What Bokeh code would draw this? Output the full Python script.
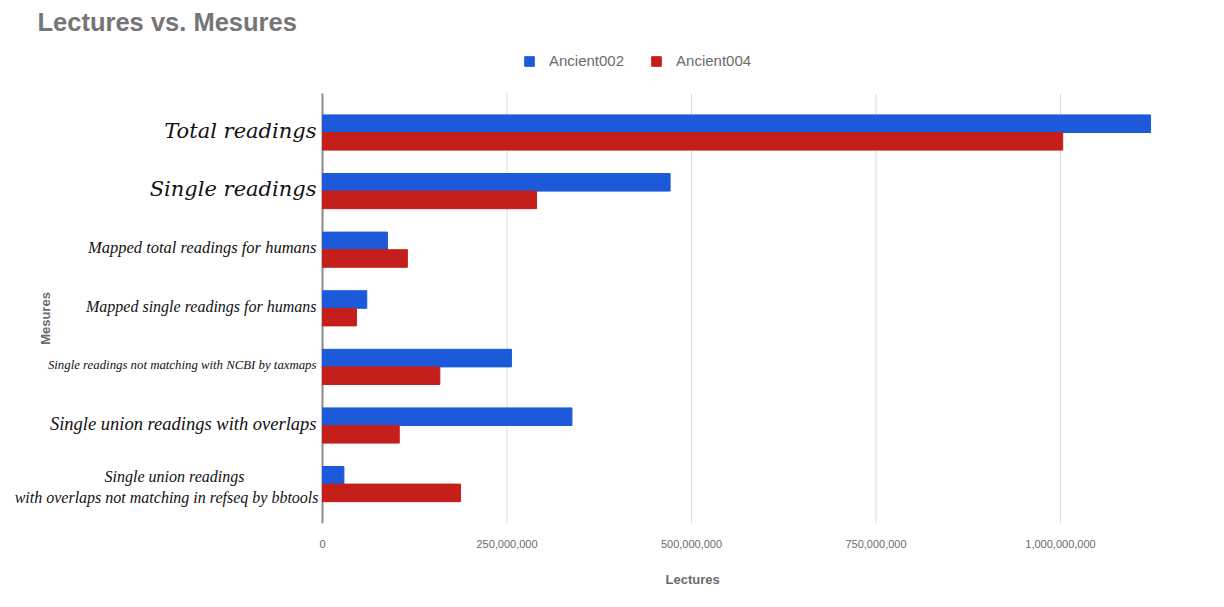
from bokeh.plotting import figure
from bokeh.models import Label, Legend, LegendItem, Range1d, FixedTicker, NumeralTickFormatter, Title
from bokeh.embed import file_html
from bokeh.resources import INLINE
import numpy as np

categories = [
    "Total readings",
    "Single readings",
    "Mapped total readings for humans",
    "Mapped single readings for humans",
    "Single readings not matching with NCBI by taxmaps",
    "Single union readings with overlaps",
    "Single union readings\nwith overlaps not matching in refseq by bbtools",
]
ancient002 = [1122e6, 471e6, 88e6, 60e6, 256e6, 338e6, 29e6]
ancient004 = [1003e6, 290e6, 115e6, 46e6, 159e6, 104e6, 187e6]
x_ticks = [0, 250e6, 500e6, 750e6, 1000e6]

BLUE = "#1c5ad9"
RED = "#c51f1b"
GRAY = "#6b6b6b"

W, H = 1224, 607
FB = 523            # frame bottom (px from top)
X0 = 322            # pixel of value 0
PX_PER_UNIT = 738 / 1e9
CAT_PX = 58.6
FIRST_CENTER = 132

x_start = -X0 / PX_PER_UNIT
x_end = (W - X0) / PX_PER_UNIT
y_top = -FIRST_CENTER / CAT_PX
y_bottom = (FB - FIRST_CENTER) / CAT_PX
plot_top = -(FIRST_CENTER - 93) / CAT_PX
plot_bottom = y_bottom

p = figure(width=W, height=H, output_backend="svg", toolbar_location=None,
           x_range=Range1d(x_start, x_end), y_range=Range1d(y_bottom, y_top),
           min_border_left=0, min_border_right=0, min_border_top=0, min_border_bottom=H - FB)
p.outline_line_color = None
p.background_fill_color = "white"
p.border_fill_color = "white"
p.grid.grid_line_color = None
p.yaxis.visible = False

# grid lines and baseline
p.segment(x0=x_ticks[1:], x1=x_ticks[1:], y0=plot_top, y1=plot_bottom,
          line_color="#dcdcdc", line_width=1)
p.segment(x0=[0], x1=[0], y0=plot_top, y1=plot_bottom, line_color="#8a8a8a", line_width=2)

idx = np.arange(len(categories))
bw = 0.30
r1 = p.hbar(y=idx - bw / 2, right=ancient002, left=0, height=bw, color=BLUE)
r2 = p.hbar(y=idx + bw / 2, right=ancient004, left=0, height=bw, color=RED)

xa = p.xaxis[0]
xa.ticker = FixedTicker(ticks=x_ticks)
xa.formatter = NumeralTickFormatter(format="0,0")
xa.axis_line_color = None
xa.major_tick_line_color = None
xa.minor_tick_line_color = None
xa.major_label_standoff = 10
xa.major_label_text_font = "Liberation Sans"
xa.major_label_text_font_size = "11px"
xa.major_label_text_color = GRAY

# x axis title, placed under the axis and shifted to the middle of the value span
xt = Title(text="Lectures", align="left", offset=665, text_font="Liberation Sans",
           text_font_style="bold", text_font_size="13px", text_color=GRAY, standoff=39)
p.add_layout(xt, "below")

# category labels
fonts = [
    ("DejaVu Serif", "21px"),
    ("DejaVu Serif", "21px"),
    ("Liberation Serif", "16.5px"),
    ("Liberation Serif", "16px"),
    ("Liberation Serif", "12.8px"),
    ("Liberation Serif", "18.5px"),
    ("Liberation Serif", "16px"),
]
for i, (cat, (fnt, fs)) in enumerate(zip(categories, fonts)):
    lines = cat.split("\n")
    common = dict(text_baseline="middle", text_font=fnt, text_font_size=fs,
                  text_font_style="italic", text_color="#111111")
    if len(lines) == 1:
        p.add_layout(Label(x=0, y=i - 0.03, x_offset=-6, text=cat, text_align="right", **common))
    else:
        p.add_layout(Label(x=0, y=i - 0.13, x_offset=-148, text=lines[0], text_align="center", **common))
        p.add_layout(Label(x=0, y=i + 0.23, x_offset=-4, text=lines[1], text_align="right", **common))

# title & y axis title (screen units are relative to the frame's bottom-left)
p.add_layout(Label(x=37, y=FB - 21, x_units="screen", y_units="screen",
                   text="Lectures vs. Mesures", text_font="Liberation Sans", text_font_style="bold",
                   text_font_size="25.5px", text_color="#757575", text_baseline="middle"))
p.add_layout(Label(x=45, y=FB - 318, x_units="screen", y_units="screen", angle=np.pi / 2,
                   text="Mesures", text_font="Liberation Sans", text_font_style="bold",
                   text_font_size="13px", text_color=GRAY, text_align="center", text_baseline="middle"))

legend = Legend(items=[LegendItem(label="Ancient002", renderers=[r1]),
                       LegendItem(label="Ancient004", renderers=[r2])],
                orientation="horizontal", location=(523, FB - 69),
                padding=0, margin=0, spacing=26, label_standoff=14,
                glyph_width=12, glyph_height=12, label_height=12,
                label_text_font="Liberation Sans", label_text_font_size="15px",
                label_text_color=GRAY, border_line_color=None, background_fill_alpha=0)
p.add_layout(legend, "center")

open("out.html", "w").write(file_html(p, INLINE))
